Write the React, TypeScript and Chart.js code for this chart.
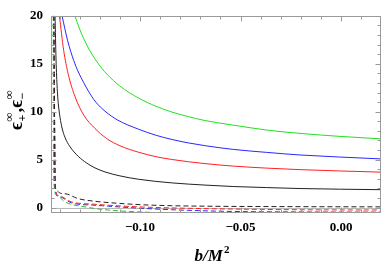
import React, { useEffect, useRef } from "react";
import { Chart, registerables } from "chart.js";

Chart.register(...registerables);

// ---- axis ranges & ticks ----
const X_MIN = -0.1443;
const X_MAX = 0.0199;
const Y_MIN = -0.56;
const Y_MAX = 20;
const xMajorTicks = [-0.1, -0.05, 0.0];
const xTickLabels = ["\u22120.10", "\u22120.05", "0.00"];
const xMinorTicks = [-0.14, -0.13, -0.12, -0.11, -0.09, -0.08, -0.07, -0.06, -0.04, -0.03, -0.02, -0.01, 0.01];
const yMajorTicks = [0, 5, 10, 15, 20];
const yTickLabels = ["0", "5", "10", "15", "20"];
const yMinorTicks = [1, 2, 3, 4, 6, 7, 8, 9, 11, 12, 13, 14, 16, 17, 18, 19];

// ---- solid curves (epsilon_+) ----
const greenSolidX = [-0.1324, -0.13, -0.128, -0.1249, -0.1224, -0.119, -0.1165, -0.11, -0.1008, -0.092, -0.0842, -0.076, -0.0677, -0.0536, -0.037, -0.0204, 0.0, 0.0199];
const greenSolidY = [20.0, 18.59, 17.6, 16.33, 15.5, 14.52, 13.92, 12.67, 11.43, 10.56, 9.97, 9.49, 9.08, 8.6, 8.09, 7.74, 7.42, 7.17];

const blueSolidX = [-0.1388, -0.136, -0.133, -0.1307, -0.128, -0.1257, -0.122, -0.1174, -0.1113, -0.1008, -0.092, -0.0842, -0.076, -0.0677, -0.0536, -0.037, -0.0204, 0.0199];
const blueSolidY = [20.0, 17.39, 15.34, 14.14, 13.02, 12.15, 11.0, 10.05, 9.15, 8.18, 7.54, 7.11, 6.75, 6.46, 6.07, 5.76, 5.49, 5.08];

const redSolidX = [-0.1401, -0.138, -0.1357, -0.1323, -0.128, -0.1224, -0.1166, -0.11, -0.1008, -0.092, -0.0842, -0.0677, -0.0536, -0.037, -0.0204, 0.0199];
const redSolidY = [20.0, 16.4, 13.9, 11.55, 9.65, 8.25, 7.2, 6.45, 5.78, 5.31, 5.02, 4.59, 4.33, 4.12, 3.96, 3.7];

const blackSolidX = [-0.1423, -0.1418, -0.1412, -0.1406, -0.1398, -0.1388, -0.1373, -0.135, -0.1307, -0.1265, -0.1224, -0.1174, -0.11, -0.1008, -0.0842, -0.0677, -0.0536, -0.037, -0.0204, 0.0199];
const blackSolidY = [20.0, 15.5, 12.4, 10.7, 9.4, 8.3, 7.3, 6.4, 5.34, 4.64, 4.14, 3.72, 3.31, 2.96, 2.58, 2.35, 2.2, 2.09, 1.99, 1.87];

// ---- dashed curves (epsilon_-) ----
const blackDashX = [-0.1428, -0.1423, -0.1373, -0.1307, -0.1224, -0.1158, -0.101, -0.0842, -0.0677, -0.0204, 0.0199];
const blackDashY = [20.0, 2.11, 1.44, 0.93, 0.66, 0.53, 0.32, 0.2, 0.15, 0.1, 0.08];

const redDashX = [-0.143, -0.142, -0.1406, -0.134, -0.1224, -0.1158, -0.1008, -0.0842, -0.0536, -0.0204, 0.0199];
const redDashY = [20.0, 1.8, 1.27, 0.59, 0.35, 0.25, 0.08, -0.03, -0.15, -0.22, -0.25];

const blueDashX = [-0.143, -0.142, -0.1406, -0.134, -0.1224, -0.1158, -0.1008, -0.0842, -0.0536, -0.0204, 0.0199];
const blueDashY = [20.0, 1.7, 1.19, 0.49, 0.25, 0.15, -0.05, -0.22, -0.4, -0.45, -0.47];

const greenDashX = [-0.1432, -0.143, -0.1414, -0.1373, -0.1274, -0.1158, -0.095, -0.075];
const greenDashY = [20.0, 3.0, 1.27, 0.59, 0.08, -0.25, -0.49, -0.62];

const pts = (xs: number[], ys: number[]) => xs.map((x, i) => ({ x, y: ys[i] }));

const FRAME = "#9a9a9a";
const SERIF = "'Liberation Serif', 'DejaVu Serif', serif";

const framePlugin = {
  id: "mmaFrame",
  beforeDatasetsDraw(chart: any) {
    const { ctx, chartArea: a, scales } = chart;
    const y0 = Math.round(scales.y.getPixelForValue(0)) + 0.5;
    ctx.save();
    ctx.strokeStyle = "#b8b8b8";
    ctx.lineWidth = 1;
    ctx.beginPath();
    ctx.moveTo(a.left, y0);
    ctx.lineTo(a.right, y0);
    ctx.stroke();
    ctx.restore();
  },
  afterDraw(chart: any) {
    const { ctx, chartArea: a, scales } = chart;
    const L = Math.round(a.left) + 0.5, R = Math.round(a.right) - 0.5;
    const T = Math.round(a.top) + 0.5, B = Math.round(a.bottom) - 0.5;
    ctx.save();
    ctx.strokeStyle = FRAME;
    ctx.lineWidth = 1;
    ctx.strokeRect(L, T, R - L, B - T);
    ctx.beginPath();
    const xt = (v: number, len: number) => {
      const p = Math.round(scales.x.getPixelForValue(v)) + 0.5;
      ctx.moveTo(p, B); ctx.lineTo(p, B - len);
      ctx.moveTo(p, T); ctx.lineTo(p, T + len);
    };
    const yt = (v: number, len: number) => {
      const p = Math.round(scales.y.getPixelForValue(v)) + 0.5;
      ctx.moveTo(L, p); ctx.lineTo(L + len, p);
      ctx.moveTo(R, p); ctx.lineTo(R - len, p);
    };
    xMajorTicks.forEach((v) => xt(v, 5));
    xMinorTicks.forEach((v) => xt(v, 3));
    yMajorTicks.forEach((v) => yt(v, 5));
    yMinorTicks.forEach((v) => yt(v, 3));
    ctx.stroke();

    // x-axis title: b/M^2
    ctx.fillStyle = "#000";
    ctx.textBaseline = "alphabetic";
    ctx.font = `italic bold 17px ${SERIF}`;
    const main = "b/M";
    const wMain = ctx.measureText(main).width;
    ctx.font = `bold 11px ${SERIF}`;
    const wSup = ctx.measureText("2").width;
    const cx = (a.left + a.right) / 2 - 4;
    const x = cx - (wMain + wSup + 1) / 2;
    ctx.font = `italic bold 17px ${SERIF}`;
    ctx.fillText(main, x, 261);
    ctx.font = `bold 11px ${SERIF}`;
    ctx.fillText("2", x + wMain + 1, 253);

    // y-axis title: eps_+^inf , eps_-^inf
    ctx.translate(22, 110);
    ctx.rotate(-Math.PI / 2);
    const big = `bold 19px ${SERIF}`;
    const small = `bold 12px ${SERIF}`;
    const groups = [
      { base: "\u03F5", sub: "+", sup: "\u221E" },
      { base: ",", sub: "", sup: "" },
      { base: "\u03F5", sub: "\u2212", sup: "\u221E" },
    ];
    const widths = groups.map((g) => {
      ctx.font = big;
      const wb = ctx.measureText(g.base).width;
      ctx.font = small;
      const ws = Math.max(ctx.measureText(g.sub).width, ctx.measureText(g.sup).width);
      return { wb, ws };
    });
    const total = widths.reduce((s, w) => s + w.wb + (w.ws ? w.ws + 1 : 0), 0);
    let px = -total / 2;
    groups.forEach((g, i) => {
      ctx.font = big;
      ctx.fillText(g.base, px, 0);
      px += widths[i].wb;
      if (g.sub || g.sup) {
        ctx.font = small;
        ctx.fillText(g.sup, px + 0.5, -9);
        ctx.fillText(g.sub, px + 0.5, 4);
        px += widths[i].ws + 1;
      }
    });
    ctx.restore();
  },
};

export default function App() {
  const ref = useRef<HTMLCanvasElement | null>(null);
  useEffect(() => {
    if (!ref.current) return;
    const solid = (label: string, color: string, xs: number[], ys: number[]) => ({
      label, data: pts(xs, ys), borderColor: color, borderWidth: 1, pointRadius: 0,
      fill: false, cubicInterpolationMode: "monotone" as const,
    });
    const dashed = (label: string, color: string, xs: number[], ys: number[]) => ({
      ...solid(label, color, xs, ys), borderDash: [5, 3],
    });
    const chart = new Chart(ref.current, {
      type: "line",
      data: {
        datasets: [
          solid("green +", "#22e022", greenSolidX, greenSolidY),
          solid("blue +", "#2828ff", blueSolidX, blueSolidY),
          solid("red +", "#ff2020", redSolidX, redSolidY),
          solid("black +", "#222222", blackSolidX, blackSolidY),
          dashed("black -", "#222222", blackDashX, blackDashY),
          dashed("red -", "#ff2020", redDashX, redDashY),
          dashed("blue -", "#2828ff", blueDashX, blueDashY),
          dashed("green -", "#22c022", greenDashX, greenDashY),
        ],
      },
      options: {
        animation: false,
        responsive: false,
        devicePixelRatio: 1,
        layout: { padding: { top: 10, right: 1, left: 0, bottom: 0 } },
        plugins: { legend: { display: false }, tooltip: { enabled: false } },
        scales: {
          x: {
            type: "linear",
            min: X_MIN,
            max: X_MAX,
            grid: { display: false, drawTicks: false },
            border: { display: false },
            afterBuildTicks: (s: any) => { s.ticks = xMajorTicks.map((v) => ({ value: v })); },
            afterFit: (s: any) => { s.height = 51; },
            ticks: {
              autoSkip: false,
              maxRotation: 0,
              padding: 7,
              color: "#000",
              font: { family: SERIF, size: 13, weight: "bold" },
              callback: (_v: any, i: number) => xTickLabels[i],
            },
          },
          y: {
            type: "linear",
            min: Y_MIN,
            max: Y_MAX,
            grid: { display: false, drawTicks: false },
            border: { display: false },
            afterBuildTicks: (s: any) => { s.ticks = yMajorTicks.map((v) => ({ value: v })); },
            afterFit: (s: any) => { s.width = 51; },
            ticks: {
              autoSkip: false,
              padding: 8,
              color: "#000",
              font: { family: SERIF, size: 13, weight: "bold" },
              callback: (_v: any, i: number) => yTickLabels[i],
            },
          },
        },
      },
      plugins: [framePlugin],
    });
    return () => chart.destroy();
  }, []);
  return (
    <div style={{ position: "fixed", left: 0, top: 0, width: 382, height: 264, background: "#fff" }}>
      <canvas ref={ref} width={382} height={264} style={{ width: 382, height: 264, display: "block" }} />
    </div>
  );
}
